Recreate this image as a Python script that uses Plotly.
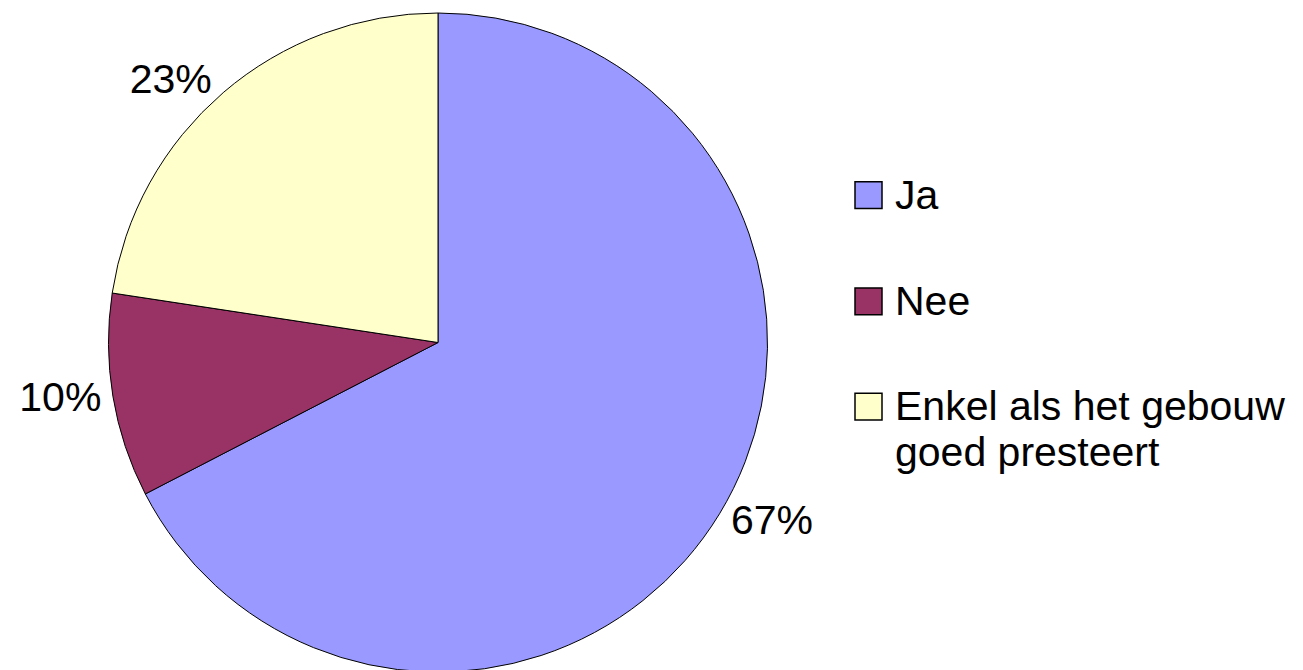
import plotly.graph_objects as go

# Data
labels = ["Ja", "Nee", "Enkel als het gebouw<br>goed presteert"]
values = [67.4, 10.0, 22.6]
pct_text = ["67%", "10%", "23%"]
colors = ["#9999FF", "#993366", "#FFFFCC"]

W, H = 1303, 670
OFF = 8  # page body margin offset
FONT = "Liberation Sans, Arial, sans-serif"

def px_x(x):
    return (x - OFF) / W

def px_y(y):
    return (H - (y - OFF)) / H

fig = go.Figure()
fig.add_trace(go.Pie(
    labels=labels,
    values=values,
    text=pct_text,
    textinfo="text",
    textposition="outside",
    sort=False,
    direction="clockwise",
    rotation=0,
    marker=dict(colors=colors, line=dict(color="black", width=1)),
    textfont=dict(family=FONT, size=41, color="black"),
    showlegend=False,
    hoverinfo="label+percent",
    domain=dict(x=[px_x(106), px_x(770)], y=[px_y(672), px_y(8)]),
))

# Custom legend (large square swatches as in the reference)
legend_tops = [178, 285, 391]
shapes = []
annotations = []
for lab, col, top in zip(labels, colors, legend_tops):
    shapes.append(dict(
        type="rect", xref="paper", yref="paper",
        x0=px_x(855), x1=px_x(882), y0=px_y(top + 27), y1=px_y(top),
        fillcolor=col, line=dict(color="black", width=1.5),
    ))
    for i, line in enumerate(lab.split("<br>")):
        annotations.append(dict(
            xref="paper", yref="paper",
            x=px_x(893), y=px_y(top + 13 + i * 46),
            xanchor="left", yanchor="middle",
            text=line, showarrow=False,
            font=dict(family=FONT, size=41, color="black"),
        ))

fig.update_layout(
    width=W, height=H,
    margin=dict(l=0, r=0, t=0, b=0),
    paper_bgcolor="white",
    plot_bgcolor="white",
    shapes=shapes,
    annotations=annotations,
)

fig.write_html("out.html")
